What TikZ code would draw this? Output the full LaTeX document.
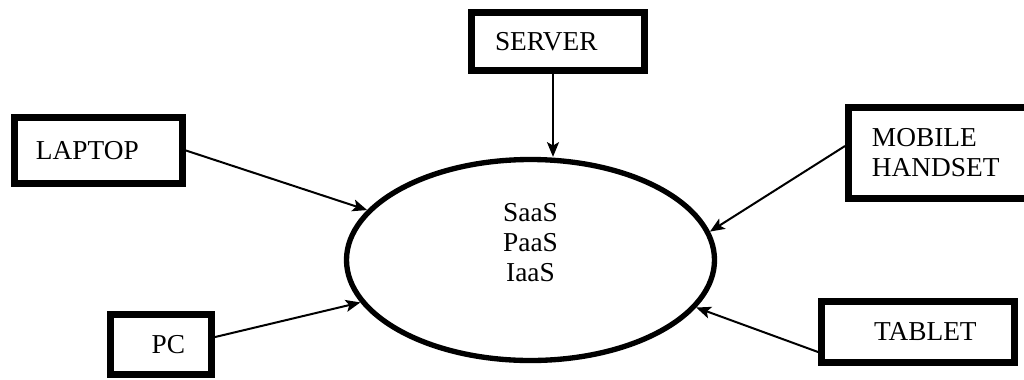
\documentclass[tikz,border=0pt]{standalone}
\usepackage{fontspec}
\setmainfont{Liberation Serif}
\usetikzlibrary{arrows.meta,shapes.geometric}

\begin{document}
\begin{tikzpicture}[x=0.75pt,y=-0.75pt,
  font=\fontsize{20.5pt}{22.5pt}\selectfont,
  device/.style={draw,rectangle,line width=5.25pt,align=left,inner ysep=0pt},
  link/.style={line width=1.5pt,-{Stealth[length=11pt,width=9pt,inset=2.5pt]}}]
  \useasboundingbox (0,0) rectangle (1024,379);

  \node[ellipse,draw,line width=4pt,minimum width=276pt,minimum height=150.75pt,
        inner sep=0pt,align=center,text depth=27pt] (cloud) at (530.5,260) {SaaS\\PaaS\\IaaS};

  \node[device,minimum height=43.5pt,text width=94.5pt,inner xsep=17.6pt] (server) at (558,41.5) {SERVER};
  \node[device,minimum height=49.5pt,text width=93.75pt,inner xsep=16.1pt] (laptop) at (98.5,150.5) {LAPTOP};
  \node[device,minimum height=68.25pt,text width=100.9pt,inner xsep=17.6pt] (mobile) at (939.25,153) {MOBILE\\HANDSET};
  \node[device,align=right,minimum height=45pt,text width=36pt,inner xsep=19.9pt] (pc) at (161,344.5) {PC};
  \node[device,align=right,minimum height=45.75pt,text width=88pt,inner xsep=28.35pt] (tablet) at (918,332) {TABLET};

  \draw[link] ([xshift=-3.75pt]server.south) -- ([xshift=-3.75pt]server.south |- cloud.north);
  \draw[link] (laptop.east) -- (cloud.163);
  \draw[link] ([yshift=5.6pt]pc.east) -- (cloud.194);
  \draw[link] ([yshift=5.25pt]mobile.west) -- (cloud.9);
  \draw[link] ([yshift=-15pt]tablet.west) -- (cloud.344);
\end{tikzpicture}
\end{document}
